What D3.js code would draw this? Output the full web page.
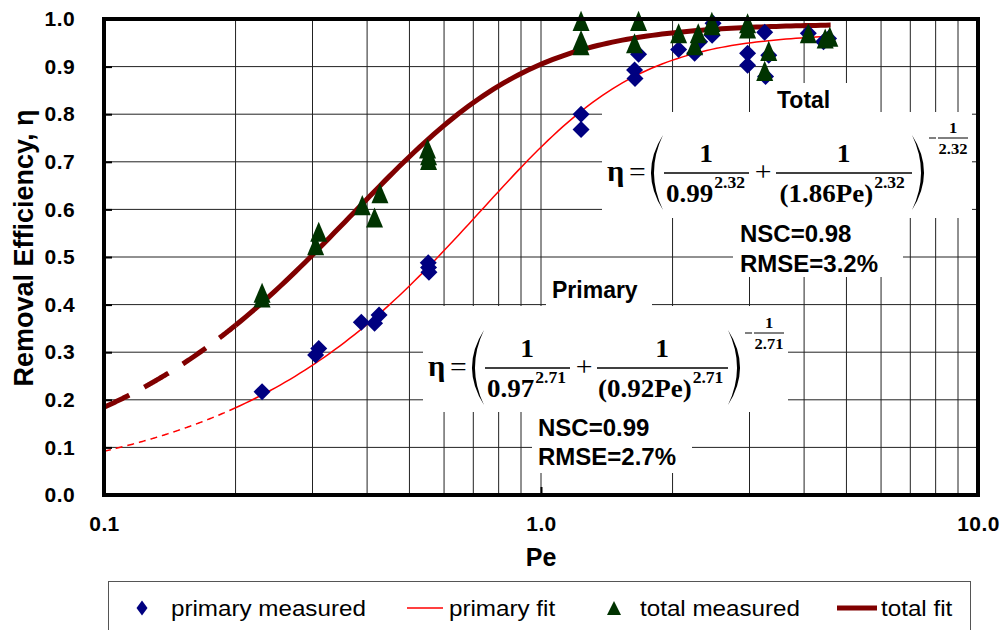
<!DOCTYPE html>
<html>
<head>
<meta charset="utf-8">
<script src="https://cdn.jsdelivr.net/npm/d3@7"></script>
<style>
  html, body { margin: 0; padding: 0; background: #fff; }
  svg { display: block; }
</style>
</head>
<body>
<svg id="chart" width="1007" height="630"></svg>
<script>
// ---- data -------------------------------------------------------------
const primaryPe  = [0.23, 0.31, 0.305, 0.388, 0.416, 0.426, 0.552, 0.553, 0.554,
                    1.235, 1.235, 1.672, 1.637, 1.641, 2.065, 2.247, 2.307, 2.464, 2.476,
                    2.97, 2.97, 3.25, 3.32, 3.265, 4.09, 4.43, 4.55];
const primaryEta = [0.217, 0.308, 0.294, 0.363, 0.361, 0.378, 0.488, 0.478, 0.468,
                    0.800, 0.768, 0.926, 0.893, 0.875, 0.936, 0.928, 0.952, 0.966, 0.991,
                    0.928, 0.903, 0.972, 0.924, 0.879, 0.970, 0.952, 0.959];

const totalPe  = [0.23, 0.23, 0.31, 0.305, 0.39, 0.428, 0.416, 0.55, 0.553, 0.553,
                  1.235, 1.235, 1.235, 1.672, 1.637, 2.065, 2.247, 2.29, 2.46, 2.46,
                  2.97, 2.97, 3.32, 3.25, 4.09, 4.47, 4.58];
const totalEta = [0.425, 0.415, 0.553, 0.525, 0.609, 0.634, 0.583, 0.728, 0.714, 0.704,
                  0.996, 0.956, 0.945, 0.996, 0.949, 0.970, 0.945, 0.970, 0.987, 0.994,
                  0.991, 0.980, 0.933, 0.891, 0.970, 0.959, 0.963];

// fitted model  eta = (1/a^n + 1/(k*Pe)^n)^(-1/n)
const fitNames = ["primary", "total"];
const fitA = [0.97, 0.99];
const fitK = [0.92, 1.86];
const fitN = [2.71, 2.32];
const fitNSC  = ["0.99", "0.98"];
const fitRMSE = ["2.7%", "3.2%"];
const fitTitle = ["Primary", "Total"];
const fitRange = [0.1, 0.2, 4.6];   // extrapolated (dashed) from 0.1 to 0.2, fitted up to 4.6

const xTicks = [0.1, 1, 10];
const yTicks = [0, 0.1, 0.2, 0.3, 0.4, 0.5, 0.6, 0.7, 0.8, 0.9, 1.0];

const legendLabels = ["primary measured", "primary fit", "total measured", "total fit"];

// ---- setup ------------------------------------------------------------
const svg = d3.select("#chart");
const SANS = "'Liberation Sans', Arial, sans-serif";
const SERIF = "'Liberation Serif', 'Times New Roman', serif";

const x = d3.scaleLog().domain([0.1, 10]).range([104, 978]);
const y = d3.scaleLinear().domain([0, 1]).range([495, 19]);

const colPrimary = "#000080", colPrimaryFit = "#ff0000";
const colTotal = "#003300", colTotalFit = "#800000";

// marker shapes: size is used as width*width, aspect stretches the height
const diamondShape = (aspect) => ({
  draw(ctx, size) {
    const r = Math.sqrt(size) / 2, h = r * aspect;
    ctx.moveTo(0, -h); ctx.lineTo(r, 0); ctx.lineTo(0, h); ctx.lineTo(-r, 0); ctx.closePath();
  }
});
const triangleShape = (aspect) => ({
  draw(ctx, size) {
    const w = Math.sqrt(size) / 2, h = w * aspect;
    ctx.moveTo(0, -h); ctx.lineTo(w, h); ctx.lineTo(-w, h); ctx.closePath();
  }
});

// ---- grid -------------------------------------------------------------
const grid = svg.append("g");
const xGrid = x.ticks().filter(d => d > 0.1 + 1e-9 && d < 10 - 1e-9);
grid.selectAll("line.v").data(xGrid).join("line")
  .attr("x1", d => x(d)).attr("x2", d => x(d))
  .attr("y1", y(1)).attr("y2", y(0))
  .attr("stroke", "#222").attr("stroke-width", 1);
grid.selectAll("line.h").data(yTicks.filter(d => d > 0 && d < 1)).join("line")
  .attr("x1", x(0.1)).attr("x2", x(10))
  .attr("y1", d => y(d)).attr("y2", d => y(d))
  .attr("stroke", "#222").attr("stroke-width", 1);

// white backgrounds of the annotation boxes
const boxes = [
  [765, 83, 95, 29], [602, 112, 370, 106], [733, 218, 170, 59],
  [546, 268, 106, 38], [423, 306, 365, 106], [532, 412, 160, 61]
];
svg.append("g").selectAll("rect").data(boxes).join("rect")
  .attr("x", d => d[0]).attr("y", d => d[1]).attr("width", d => d[2]).attr("height", d => d[3])
  .attr("fill", "#fff");

// ---- fitted curves ----------------------------------------------------
function fitValue(i, pe) {
  const n = fitN[i];
  return Math.pow(1 / Math.pow(fitA[i], n) + 1 / Math.pow(fitK[i] * pe, n), -1 / n);
}
function fitPoints(i, a, b) {
  const la = Math.log10(a), lb = Math.log10(b), N = 120;
  return d3.range(N + 1).map(j => {
    const pe = Math.pow(10, la + (lb - la) * j / N);
    return [pe, fitValue(i, pe)];
  });
}
const line = d3.line().x(d => x(d[0])).y(d => y(d[1]));
const fitStyle = [
  { color: colPrimaryFit, width: 1.5, dash: "7,5" },
  { color: colTotalFit, width: 5, dash: "28,17" }
];
const fits = svg.append("g");
fitNames.forEach((name, i) => {
  fits.append("path").datum(fitPoints(i, fitRange[0], fitRange[1]))
    .attr("d", line).attr("fill", "none")
    .attr("stroke", fitStyle[i].color).attr("stroke-width", fitStyle[i].width)
    .attr("stroke-dasharray", fitStyle[i].dash);
  fits.append("path").datum(fitPoints(i, fitRange[1], fitRange[2]))
    .attr("d", line).attr("fill", "none")
    .attr("stroke", fitStyle[i].color).attr("stroke-width", fitStyle[i].width);
});

// ---- measured points --------------------------------------------------
svg.append("g").selectAll("path").data(primaryPe.map((p, i) => [p, primaryEta[i]])).join("path")
  .attr("transform", d => `translate(${x(d[0])},${y(d[1])})`)
  .attr("d", d3.symbol().type(diamondShape(1)).size(17 * 17))
  .attr("fill", colPrimary);
svg.append("g").selectAll("path").data(totalPe.map((p, i) => [p, totalEta[i]])).join("path")
  .attr("transform", d => `translate(${x(d[0])},${y(d[1])})`)
  .attr("d", d3.symbol().type(triangleShape(1.18)).size(17 * 17))
  .attr("fill", colTotal);

// ---- frame and axes ---------------------------------------------------
svg.append("rect")
  .attr("x", x(0.1)).attr("y", y(1))
  .attr("width", x(10) - x(0.1)).attr("height", y(0) - y(1))
  .attr("fill", "none").attr("stroke", "#000").attr("stroke-width", 4);

const yAxis = svg.append("g").attr("transform", `translate(${x(0.1)},0)`)
  .call(d3.axisLeft(y).tickValues(yTicks).tickFormat(d3.format(".1f"))
        .tickSizeInner(-8).tickSizeOuter(0).tickPadding(29));
const xAxis = svg.append("g").attr("transform", `translate(0,${y(0)})`)
  .call(d3.axisBottom(x).tickValues(xTicks).tickFormat(d3.format(".1f"))
        .tickSizeInner(-8).tickSizeOuter(0).tickPadding(36));
[yAxis, xAxis].forEach(a => {
  a.select(".domain").remove();
  a.selectAll(".tick line").attr("stroke", "#000").attr("stroke-width", 2);
  a.selectAll(".tick text").attr("font-family", SANS).attr("font-weight", "bold")
    .attr("font-size", 21).attr("fill", "#000").attr("letter-spacing", 0.4);
});
xAxis.selectAll(".tick text").attr("dy", "0");

svg.append("text").attr("transform", "translate(33,248) rotate(-90)")
  .attr("text-anchor", "middle").attr("font-family", SANS).attr("font-weight", "bold")
  .attr("font-size", 27).text("Removal Efficiency, η");
svg.append("text").attr("x", 541).attr("y", 566)
  .attr("text-anchor", "middle").attr("font-family", SANS).attr("font-weight", "bold")
  .attr("font-size", 25).text("Pe");

// ---- equations --------------------------------------------------------
function txt(g, px, py, s, o) {
  return g.append("text")
    .attr("transform", `translate(${px},${py}) scale(${o.sx || 1},1)`)
    .attr("text-anchor", o.anchor || "start")
    .attr("font-family", o.family || SERIF)
    .attr("font-weight", o.weight || "bold")
    .attr("font-size", o.size)
    .text(s);
}
// right edge of a piece of text drawn by txt (start-anchored)
function rightEdge(t, px, sx) {
  return px + t.node().getComputedTextLength() * sx;
}
function paren(g, px, top, bot, dir) {
  // dir = 1: left paren (bulge to the left), -1: right paren
  const mid = (top + bot) / 2, w = 12;
  const tip = dir > 0 ? px + w : px;
  const out = dir > 0 ? px - w : px + 2 * w;
  const inn = dir > 0 ? px - 6 : px + w + 6;
  const p = d3.path();
  p.moveTo(tip, top);
  p.quadraticCurveTo(out, mid, tip, bot);
  p.quadraticCurveTo(inn, mid, tip, top);
  p.closePath();
  g.append("path").attr("d", p.toString()).attr("fill", "#000");
}
function equation(i, ox, oy, tail) {
  const g = svg.append("g");
  const n = d3.format(".2f")(fitN[i]);
  const a = d3.format(".2f")(fitA[i]);
  const k = d3.format(".2f")(fitK[i]);
  const bar = (x1, x2, yy, w) => g.append("line").attr("x1", x1).attr("x2", x2)
    .attr("y1", yy).attr("y2", yy).attr("stroke", "#000").attr("stroke-width", w);
  const sxD = 1.08;
  txt(g, ox, oy + 8, "η", { size: 29, sx: 1.05 });
  txt(g, ox + 22, oy + 8, "=", { size: 27, sx: 1.1, weight: "normal" });
  paren(g, ox + 44, oy - 38, oy + 37, 1);
  bar(ox + 57, ox + 142, oy, 1.3);
  txt(g, ox + 99, oy - 11, "1", { size: 25, sx: 1.1, anchor: "middle" });
  const d1 = txt(g, ox + 59, oy + 29, a, { size: 25, sx: sxD });
  txt(g, rightEdge(d1, ox + 59, sxD) + 1, oy + 15, n, { size: 16, sx: 1.1 });
  txt(g, ox + 156, oy + 8, "+", { size: 27, sx: 1.1, anchor: "middle", weight: "normal" });
  bar(ox + 169, ox + 300 + tail, oy, 1.3);
  txt(g, ox + 234 + tail / 2, oy - 11, "1", { size: 25, sx: 1.1, anchor: "middle" });
  const d2 = txt(g, ox + 170 + tail / 2, oy + 29, `(${k}Pe)`, { size: 25, sx: sxD });
  txt(g, rightEdge(d2, ox + 170 + tail / 2, sxD) + 1, oy + 15, n, { size: 16, sx: 1.1 });
  paren(g, ox + 300 + tail, oy - 38, oy + 37, -1);
  bar(ox + 317 + tail, ox + 324 + tail, oy - 35, 1);
  bar(ox + 326 + tail, ox + 356 + tail, oy - 35, 1);
  txt(g, ox + 341 + tail, oy - 40, "1", { size: 15, sx: 1.1, anchor: "middle" });
  txt(g, ox + 341 + tail, oy - 19, n, { size: 15, sx: 1.1, anchor: "middle" });
}
equation(0, 428, 368, 0);
equation(1, 607, 173, 5);

// titles and goodness-of-fit labels
const lab = (px, py, s, size) => svg.append("text").attr("x", px).attr("y", py)
  .attr("font-family", SANS).attr("font-weight", "bold").attr("font-size", size).text(s);
lab(552, 298, fitTitle[0], 23);
lab(777, 108, fitTitle[1], 23);
lab(538, 436, "NSC=" + fitNSC[0], 24);
lab(538, 465, "RMSE=" + fitRMSE[0], 24);
lab(740, 242, "NSC=" + fitNSC[1], 24);
lab(740, 272, "RMSE=" + fitRMSE[1], 24);

// ---- legend -----------------------------------------------------------
const lg = svg.append("g");
lg.append("rect").attr("x", 108.5).attr("y", 581.5).attr("width", 862).attr("height", 70)
  .attr("fill", "#fff").attr("stroke", "#555").attr("stroke-width", 1);
const ly = 608;
lg.append("path").attr("transform", `translate(142,${ly})`)
  .attr("d", d3.symbol().type(diamondShape(1.35)).size(11 * 11)).attr("fill", colPrimary);
lg.append("line").attr("x1", 407).attr("x2", 443).attr("y1", ly).attr("y2", ly)
  .attr("stroke", colPrimaryFit).attr("stroke-width", 1.5);
lg.append("path").attr("transform", `translate(614,${ly})`)
  .attr("d", d3.symbol().type(triangleShape(1)).size(14 * 14)).attr("fill", colTotal);
lg.append("line").attr("x1", 837).attr("x2", 877).attr("y1", ly).attr("y2", ly)
  .attr("stroke", colTotalFit).attr("stroke-width", 5);
const legX = [171, 449, 640, 881];
legendLabels.forEach((s, i) => {
  txt(lg, legX[i], ly + 8, s, { size: 22, sx: 1.1, family: SANS, weight: "normal" });
});
</script>
</body>
</html>
